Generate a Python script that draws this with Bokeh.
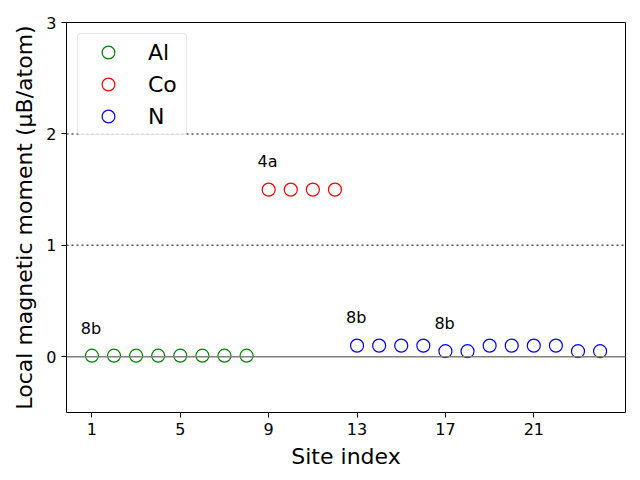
from bokeh.plotting import figure
from bokeh.models import Range1d, Span, Label, Legend, LegendItem, FixedTicker
from bokeh.embed import file_html
from bokeh.resources import INLINE

al_x = [1, 2, 3, 4, 5, 6, 7, 8]
al_y = [0.01, 0.01, 0.01, 0.01, 0.01, 0.01, 0.01, 0.01]
co_x = [9, 10, 11, 12]
co_y = [1.5, 1.5, 1.5, 1.5]
n_x = [13, 14, 15, 16, 17, 18, 19, 20, 21, 22, 23, 24]
n_y = [0.1, 0.1, 0.1, 0.1, 0.05, 0.05, 0.1, 0.1, 0.1, 0.1, 0.05, 0.05]
x_ticks = [1, 5, 9, 13, 17, 21]
y_ticks = [0, 1, 2, 3]
ann_text = ["8b", "4a", "8b", "8b"]
ann_x = [0.5, 8.5, 12.5, 16.5]
ann_y = [0.25, 1.75, 0.35, 0.3]

FONT = "DejaVu Sans"

p = figure(width=640, height=480, output_backend="svg", toolbar_location=None,
           x_range=Range1d(-0.15, 25.15), y_range=Range1d(-0.5, 3))
p.min_border_left = 66
p.min_border_right = 15
p.min_border_top = 22
p.min_border_bottom = 68
p.background_fill_color = "white"
p.border_fill_color = "white"
p.outline_line_color = "black"
p.outline_line_width = 1
p.grid.visible = False

for ax in (p.xaxis, p.yaxis):
    ax.axis_line_color = None
    ax.major_tick_line_color = "black"
    ax.major_tick_out = 5
    ax.major_tick_in = 0
    ax.minor_tick_line_color = None
    ax.major_label_text_font = FONT
    ax.major_label_text_font_size = "16px"
    ax.major_label_text_color = "black"
    ax.axis_label_text_font = FONT
    ax.axis_label_text_font_size = "22px"
    ax.axis_label_text_font_style = "normal"
    ax.axis_label_text_color = "black"

p.xaxis.ticker = FixedTicker(ticks=x_ticks)
p.yaxis.ticker = FixedTicker(ticks=y_ticks)
p.xaxis.axis_label = "Site index"
p.xaxis.axis_label_standoff = 6
p.yaxis.axis_label = "Local magnetic moment (\u03bcB/atom)"
p.yaxis.axis_label_standoff = 6

p.add_layout(Span(location=0, dimension="width", line_color="gray", line_width=1.5))
for yv in (1, 2):
    p.add_layout(Span(location=yv, dimension="width", line_color="#555555", line_width=1.5, line_dash="2 3"))

r_al = p.scatter(al_x, al_y, size=13, fill_color=None, line_color="green", line_width=1.2)
r_co = p.scatter(co_x, co_y, size=13, fill_color=None, line_color="red", line_width=1.2)
r_n = p.scatter(n_x, n_y, size=13, fill_color=None, line_color="blue", line_width=1.2)

for t, x, y in zip(ann_text, ann_x, ann_y):
    p.add_layout(Label(x=x, y=y, text=t, text_font=FONT, text_font_size="16px",
                       text_color="black", text_baseline="alphabetic"))

legend = Legend(items=[LegendItem(label="Al", renderers=[r_al]),
                       LegendItem(label="Co", renderers=[r_co]),
                       LegendItem(label="N", renderers=[r_n])],
                location="top_left")
legend.label_text_font = FONT
legend.label_text_font_size = "22px"
legend.label_text_color = "black"
legend.border_line_color = "#cccccc"
legend.border_line_width = 1
legend.border_radius = 4
legend.background_fill_alpha = 0.8
legend.margin = 11
legend.padding = 2
legend.spacing = 0
legend.glyph_width = 56
legend.glyph_height = 32
legend.label_height = 32
legend.label_width = 36
legend.label_standoff = 12
p.add_layout(legend)

open("out.html", "w").write(file_html(p, INLINE))
